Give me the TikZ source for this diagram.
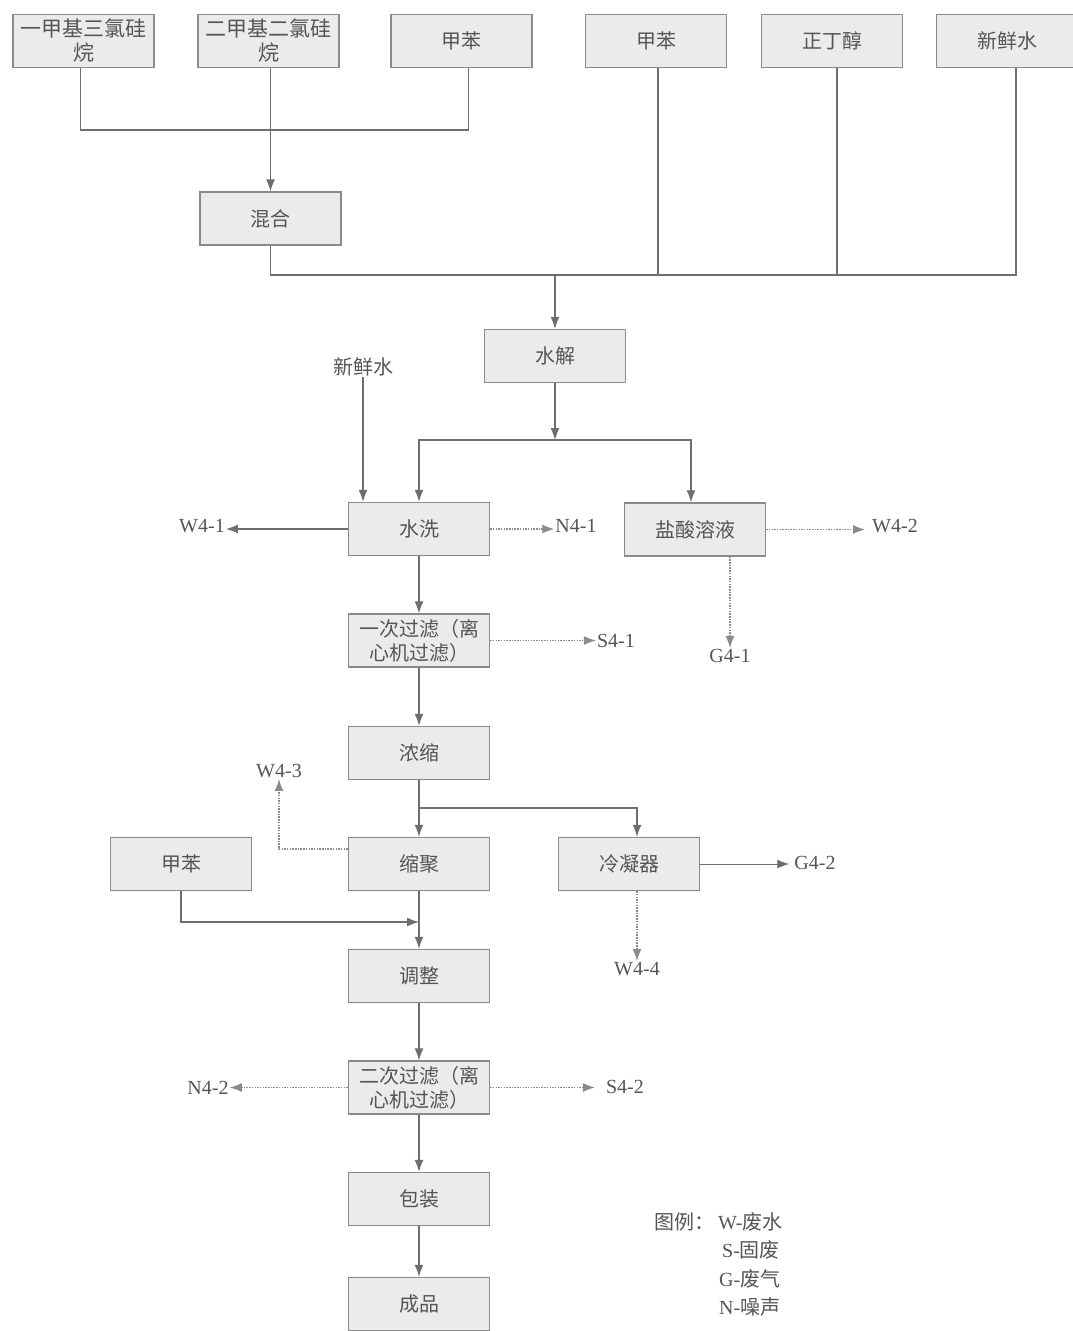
\documentclass[tikz,border=0pt]{standalone}
\usepackage{fontspec}
\setmainfont{Liberation Serif}
\newfontfamily\cjk{Noto Sans CJK SC}
\usetikzlibrary{arrows.meta,calc}
\definecolor{txt}{HTML}{555555}
\definecolor{ln}{HTML}{6E6E6E}
\definecolor{bd}{HTML}{8A8A8A}
\definecolor{bf}{HTML}{EBEBEB}
\tikzset{
  box/.style={draw=bd, fill=bf, line width=1.3pt, minimum width=141pt, minimum height=53pt,
    inner sep=1pt, align=center, text=txt, font=\cjk\fontsize{20}{24}\selectfont},
  lbl/.style={text=txt, inner sep=1pt, font=\fontsize{20}{24}\selectfont},
  clbl/.style={text=txt, inner sep=1pt, font=\cjk\fontsize{20}{24}\selectfont},
  conn/.style={draw=ln, line width=1.2pt},
  tip/.style={-{Latex[length=12pt,width=9pt]}},
  arr/.style={conn, tip},
  darr/.style={draw=ln!80, line width=1.3pt, dash pattern=on 1.5pt off 1.2pt, tip},
}
\begin{document}
\begin{tikzpicture}[x=1pt,y=-1pt]
\useasboundingbox[fill=white] (0,0) rectangle (1072,1331);
% top row
\node[box, font=\cjk\fontsize{21}{24}\selectfont] (b1) at (83.5,41) {一甲基三氯硅\\烷};
\node[box, font=\cjk\fontsize{21}{24}\selectfont] (b2) at (268.5,41) {二甲基二氯硅\\烷};
\node[box] (b3) at (461.5,41) {甲苯};
\node[box] (b4) at (656,41) {甲苯};
\node[box] (b5) at (832,41) {正丁醇};
\node[box] (b6) at (1007,41) {新鲜水};
\node[box] (mix) at (270.5,218.5) {混合};
\node[box] (hyd) at (555,356) {水解};
\node[clbl] (fw) at (363,367) {新鲜水};
\node[box] (wash) at (419,529) {水洗};
\node[box] (hcl) at (695,529.5) {盐酸溶液};
\node[box] (f1) at (419,640.5) {一次过滤（离\\心机过滤）};
\node[box] (conc) at (419,753) {浓缩};
\node[box] (poly) at (419,864) {缩聚};
\node[box] (cond) at (629,864) {冷凝器};
\node[box] (tol2) at (181,864) {甲苯};
\node[box] (adj) at (419,976) {调整};
\node[box] (f2) at (419,1087.5) {二次过滤（离\\心机过滤）};
\node[box] (pack) at (419,1199) {包装};
\node[box] (prod) at (419,1304) {成品};
% labels
\node[lbl] (w41) at (202,526) {W4-1};
\node[lbl] (n41) at (576,526) {N4-1};
\node[lbl] (w42) at (895,526) {W4-2};
\node[lbl] (g41) at (730,656) {G4-1};
\node[lbl] (s41) at (616,641) {S4-1};
\node[lbl] (w43) at (279,771) {W4-3};
\node[lbl] (g42) at (815,863) {G4-2};
\node[lbl] (w44) at (637,969) {W4-4};
\node[lbl] (n42) at (208,1088) {N4-2};
\node[lbl] (s42) at (625,1087) {S4-2};
% legend
\node[clbl] (lg0) at (684,1222) {图例：};
\node[lbl, anchor=west] (lg1) at (717,1222) {W-{\cjk 废水}};
\node[lbl, anchor=west] (lg2) at (721,1250) {S-{\cjk 固废}};
\node[lbl, anchor=west] (lg3) at (718,1279) {G-{\cjk 废气}};
\node[lbl, anchor=west] (lg4) at (718,1307) {N-{\cjk 噪声}};
% junction coordinates
\coordinate (m1) at (270,130);
\coordinate (m2) at (555,275);
\coordinate (m3) at (555,440);
\coordinate (m4) at (637,808);
\coordinate (m5) at (419,922);
% top merges
\draw[conn] ([xshift=-3pt]b1.south) |- (m1) -| ([xshift=7pt]b3.south);
\draw[arr] (b2.south -| mix.north) -- (mix.north);
\draw[conn] (mix.south) |- ([xshift=9pt]b6.south |- m2) -- ([xshift=9pt]b6.south);
\draw[conn] ([xshift=2pt]b4.south) -- ([xshift=2pt]b4.south |- m2);
\draw[conn] ([xshift=5pt]b5.south) -- ([xshift=5pt]b5.south |- m2);
\draw[arr] (m2) -- (hyd.north);
% hydrolysis split
\draw[arr] (hyd.south) -- (m3);
\draw[arr] (m3) -| (wash.north);
\draw[arr] ($(m3)+(-0.5,0)$) -| ([xshift=-4pt]hcl.north);
\draw[arr] (fw.south) -- (fw.south |- wash.north);
% wash outputs
\draw[arr] (wash.west) -- (wash.west -| w41.east);
\draw[darr] (wash.east) -- (wash.east -| n41.west);
\draw[darr] (hcl.east) -- ([xshift=-6pt]hcl.east -| w42.west);
\draw[darr] (hcl.south -| g41.north) -- (g41.north);
% main chain
\draw[arr] (wash.south) -- (f1.north);
\draw[darr] (f1.east) -- (f1.east -| s41.west);
\draw[arr] (f1.south) -- (conc.north);
\draw[arr] (conc.south) -- (poly.north);
\draw[arr] (conc.south |- m4) -- (m4) -- (m4 |- cond.north);
\draw[darr] ([yshift=15pt]poly.west) -| (w43.south);
\draw[conn, tip, line width=0.9pt] (cond.east) -- ([xshift=-4pt]cond.east -| g42.west);
\draw[darr] (m4 |- cond.south) -- (w44.north);
\draw[arr] (tol2.south) |- (m5);
\draw[arr] (poly.south) -- (adj.north);
\draw[arr] (adj.south) -- (f2.north);
\draw[darr] (f2.west) -- (f2.west -| n42.east);
\draw[darr] (f2.east) -- ([xshift=-10pt]f2.east -| s42.west);
\draw[arr] (f2.south) -- (pack.north);
\draw[arr] (pack.south) -- (prod.north);
\end{tikzpicture}
\end{document}
